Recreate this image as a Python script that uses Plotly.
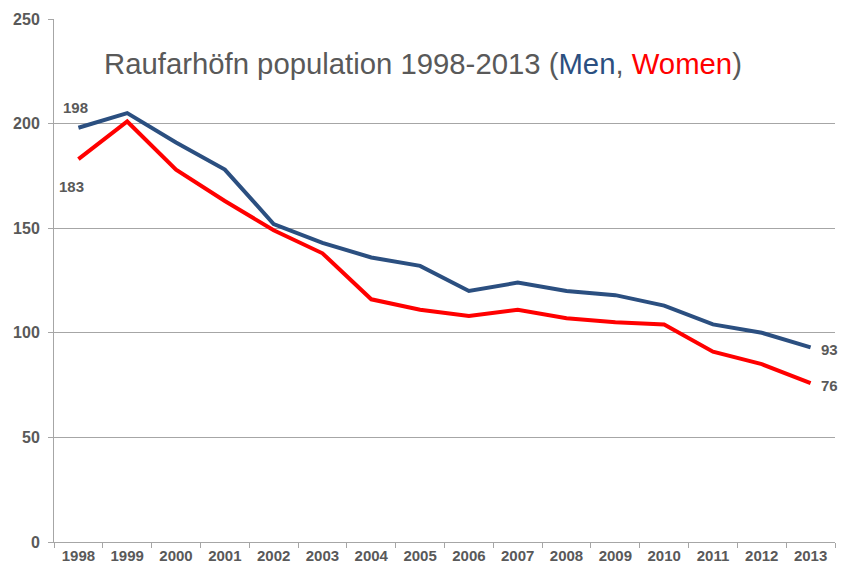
import plotly.graph_objects as go

years = ["1998", "1999", "2000", "2001", "2002", "2003", "2004", "2005",
         "2006", "2007", "2008", "2009", "2010", "2011", "2012", "2013"]
men = [198, 205, 191, 178, 152, 143, 136, 132, 120, 124, 120, 118, 113, 104, 100, 93]
women = [183, 201, 178, 163, 149, 138, 116, 111, 108, 111, 107, 105, 104, 91, 85, 76]
y_ticks = [0, 50, 100, 150, 200, 250]

MEN_COLOR = "#2B4F80"
WOMEN_COLOR = "#FF0000"
GREY_TEXT = "#595959"
GRID = "#A6A6A6"
FONT = "Liberation Sans, Arial, sans-serif"

fig = go.Figure()
fig.add_trace(go.Scatter(x=years, y=women, mode="lines",
                         line=dict(color=WOMEN_COLOR, width=4), name="Women"))
fig.add_trace(go.Scatter(x=years, y=men, mode="lines",
                         line=dict(color=MEN_COLOR, width=4), name="Men"))

lab_font = dict(family=FONT, size=15, color=GREY_TEXT, weight="bold")
first, last = 0, len(years) - 1
annotations = [
    dict(x=first, y=men[first], text=str(men[first]), showarrow=False,
         xshift=-3, yshift=20, font=lab_font),
    dict(x=first, y=women[first], text=str(women[first]), showarrow=False,
         xshift=-7, yshift=-27, font=lab_font),
    dict(x=last, y=men[last], text=str(men[last]), showarrow=False,
         xshift=19, yshift=-2, font=lab_font),
    dict(x=last, y=women[last], text=str(women[last]), showarrow=False,
         xshift=19, yshift=-2, font=lab_font),
    dict(xref="paper", yref="paper", x=0.0615, y=0.914, xanchor="left", yanchor="middle",
         showarrow=False,
         text=("Raufarhöfn population 1998-2013 ("
               f"<span style='color:{MEN_COLOR}'>Men</span>, "
               f"<span style='color:{WOMEN_COLOR}'>Women</span>)"),
         font=dict(family=FONT, size=29.3, color=GREY_TEXT)),
]

fig.update_layout(
    width=843, height=566,
    margin=dict(l=54, r=8, t=19, b=24),
    paper_bgcolor="white", plot_bgcolor="white",
    showlegend=False,
    hovermode=False,
    annotations=annotations,
    xaxis=dict(type="category", showgrid=False, showline=True, linecolor=GRID,
               linewidth=1, ticks="outside", tickson="boundaries", ticklen=5,
               tickcolor=GRID, automargin=False,
               tickfont=dict(family=FONT, size=15, color=GREY_TEXT, weight="bold"),
               range=[-0.5, len(years) - 0.5]),
    yaxis=dict(range=[0, 250], tickvals=y_ticks, showgrid=True, gridcolor=GRID,
               gridwidth=1, showline=True, linecolor=GRID, linewidth=1,
               ticks="outside", ticklen=5, tickcolor=GRID, zeroline=False,
               automargin=False, ticklabelstandoff=5,
               tickfont=dict(family=FONT, size=16, color=GREY_TEXT, weight="bold")),
)

fig.write_html("out.html", config={"displayModeBar": False},
               post_script="document.body.style.margin='0';document.body.style.overflow='hidden';")
